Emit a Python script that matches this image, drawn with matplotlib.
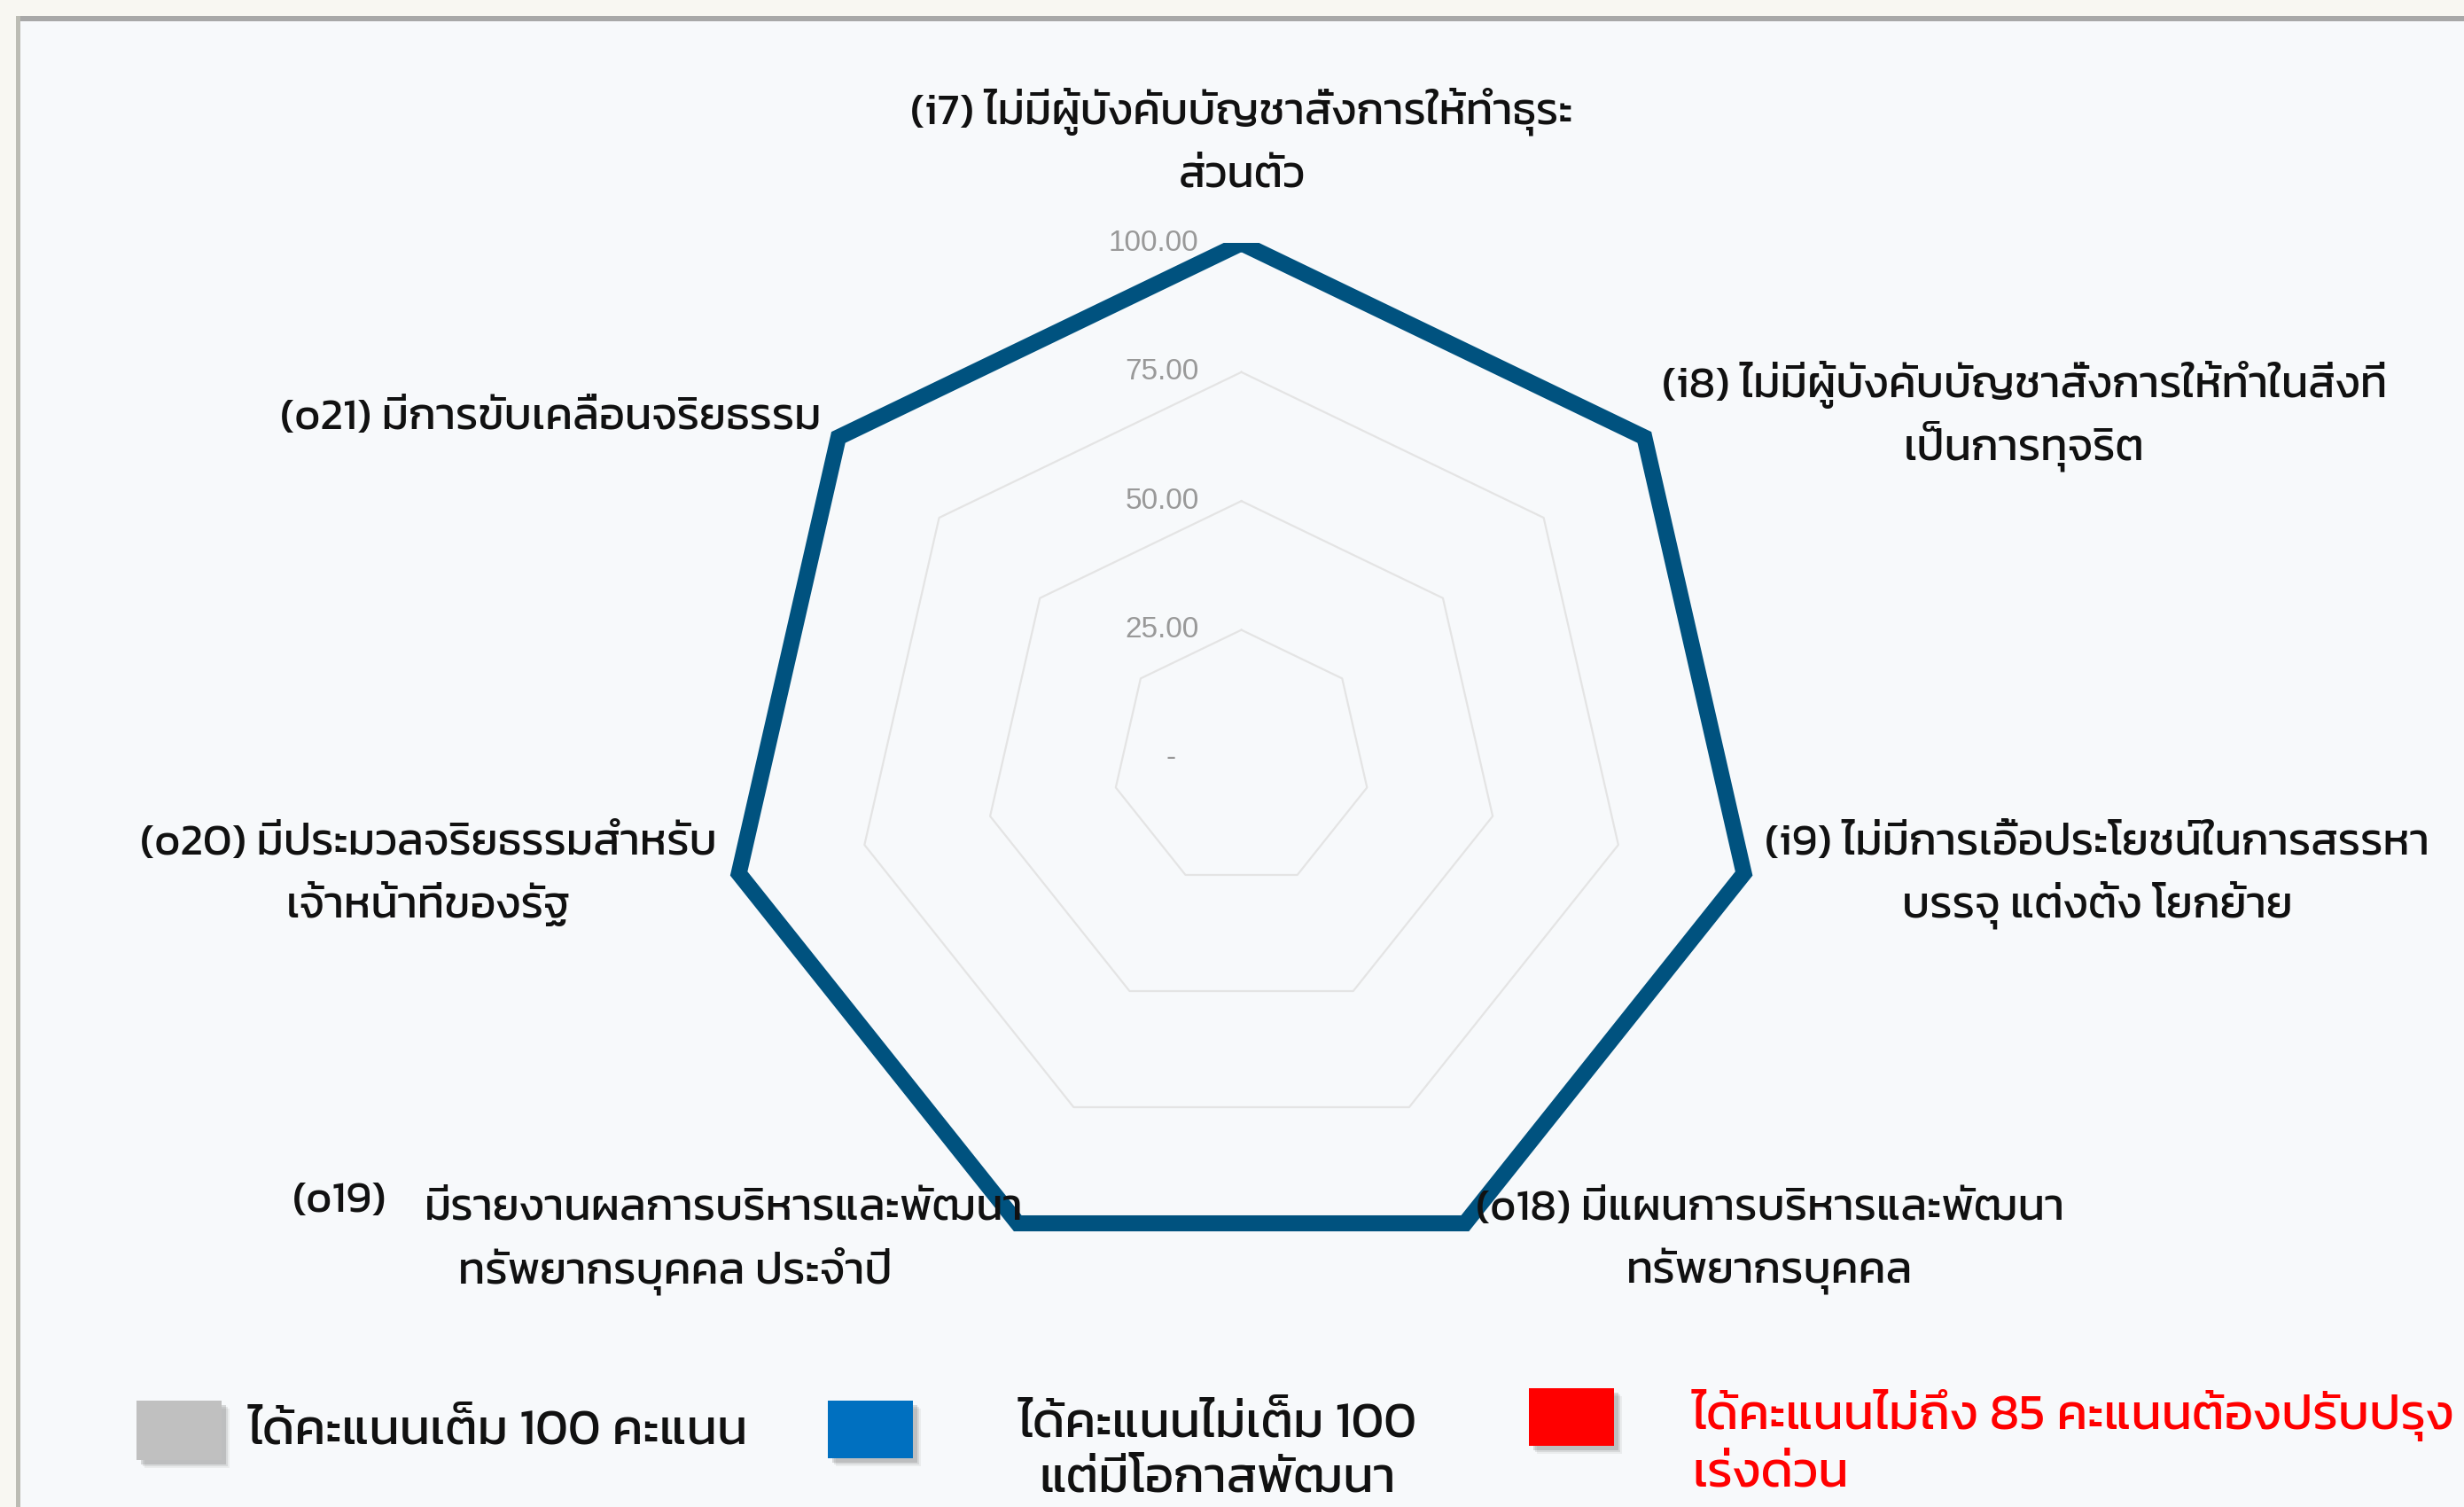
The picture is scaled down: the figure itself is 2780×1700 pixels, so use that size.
import matplotlib
matplotlib.use("Agg")
import numpy as np
import matplotlib.pyplot as plt
from matplotlib.patches import Rectangle

plt.rcParams['font.family'] = ['Kanit', 'DejaVu Sans']
plt.rcParams['font.weight'] = 'normal'

# data
labels = [
    ["(i7) ไม่มีผู้บังคับบัญชาสั่งการให้ทำธุระ", "ส่วนตัว"],
    ["(i8) ไม่มีผู้บังคับบัญชาสั่งการให้ทำในสิ่งที่", "เป็นการทุจริต"],
    ["(i9) ไม่มีการเอื้อประโยชน์ในการสรรหา", "บรรจุ แต่งตั้ง โยกย้าย"],
    ["(o18) มีแผนการบริหารและพัฒนา", "ทรัพยากรบุคคล"],
    ["(o19)", "มีรายงานผลการบริหารและพัฒนา", "ทรัพยากรบุคคล ประจำปี"],
    ["(o20) มีประมวลจริยธรรมสำหรับ", "เจ้าหน้าที่ของรัฐ"],
    ["(o21) มีการขับเคลื่อนจริยธรรม"],
]
scores = [100, 100, 100, 100, 100, 100, 100]
ring_values = [25, 50, 75]
tick_values = [0, 25, 50, 75, 100]
tick_labels = ["-", "25.00", "50.00", "75.00", "100.00"]
legend_labels = [["ได้คะแนนเต็ม 100 คะแนน"],
                 ["ได้คะแนนไม่เต็ม 100", "แต่มีโอกาสพัฒนา"],
                 ["ได้คะแนนไม่ถึง 85 คะแนนต้องปรับปรุง", "เร่งด่วน"]]
legend_colors = ["#c0c0c0", "#0070c0", "#ff0000"]
legend_text_colors = ["#111111", "#111111", "#ff0000"]

W, H, DPI = 2780, 1700, 200
fig = plt.figure(figsize=(W / DPI, H / DPI), dpi=DPI, facecolor="#f8f7f2")


def fx(x):
    return x / W


def fy(y):
    return 1 - y / H


def line_text(s, x, y, size, color, align="center"):
    em = size * DPI / 72
    fig.text(fx(x), fy(y + 0.27 * em), s, ha=align, va="baseline", fontsize=size, color=color)


# panel background + border
fig.add_artist(Rectangle((fx(18), 0), 1, fy(18), transform=fig.transFigure,
                         facecolor="#f7f9fb", edgecolor="none", zorder=0))
fig.add_artist(Rectangle((fx(18), fy(24)), 1, 6 / H, transform=fig.transFigure,
                         facecolor="#a8a8a8", edgecolor="none", zorder=0.5))
fig.add_artist(Rectangle((fx(18), 0), 5 / W, fy(18), transform=fig.transFigure,
                         facecolor="#bcbcb4", edgecolor="none", zorder=0.5))

# radar axes (cartesian, equal scale)
cx, cy, R = 1400.6, 856, 581.6
ax = fig.add_axes([fx(cx - R), fy(cy + R), 2 * R / W, 2 * R / H])
ax.set_xlim(-100, 100)
ax.set_ylim(-100, 100)
ax.axis("off")
ax.patch.set_visible(False)

n = len(scores)
theta = np.linspace(0, 2 * np.pi, n, endpoint=False)
tc = np.append(theta, theta[0])
for r in ring_values:
    ax.plot(r * np.sin(tc), r * np.cos(tc), color="#e4e4e4", lw=0.8, zorder=1)

sc = np.append(scores, scores[0])
ax.plot(sc * np.sin(tc), sc * np.cos(tc), color="#00527f", lw=6.5,
        solid_joinstyle="miter", zorder=3)

for v, t in zip(tick_values, tick_labels):
    if v == 0:
        ax.annotate(t, (0, v), xytext=(-80, 0), textcoords="offset pixels", ha="center",
                    va="center", fontsize=12, color="#999999", family="Liberation Sans")
    else:
        ax.annotate(t, (0, v), xytext=(-48, 0), textcoords="offset pixels", ha="right",
                    va="center", fontsize=12, color="#999999", family="Liberation Sans")

# category labels (pixel layout: x, y, align)
label_pos = [
    [(1401, 126, "center"), (1401, 197, "center")],
    [(2284, 434, "center"), (2284, 505, "center")],
    [(2366, 950, "center"), (2366, 1021, "center")],
    [(1997, 1362, "center"), (1997, 1434, "center")],
    [(330, 1353, "left"), (479, 1362, "left"), (762, 1434, "center")],
    [(483, 950, "center"), (483, 1021, "center")],
    [(621, 470, "center")],
]
fs_lab = 18.1
for lines, pos in zip(labels, label_pos):
    for s, (x, y, al) in zip(lines, pos):
        line_text(s, x, y, fs_lab, "#111111", al)

# legend
boxes = [(154, 1580, 96, 67), (934, 1580, 96, 65), (1725, 1566, 96, 65)]
for (x, y, w, h), c in zip(boxes, legend_colors):
    for d, a in [(9, 0.08), (7, 0.12), (5, 0.2)]:
        fig.add_artist(Rectangle((fx(x + d), fy(y + h + d)), w / W, h / H,
                                 transform=fig.transFigure, facecolor="#555555",
                                 alpha=a, edgecolor="none", zorder=2))
    fig.add_artist(Rectangle((fx(x), fy(y + h)), w / W, h / H, transform=fig.transFigure,
                             facecolor=c, edgecolor="none", zorder=3))

fs_leg = 20.4
legend_pos = [
    [(280, 1613, "left")],
    [(1374, 1605, "center"), (1374, 1667, "center")],
    [(1909, 1597, "left"), (1909, 1661, "left")],
]
for lines, pos, c in zip(legend_labels, legend_pos, legend_text_colors):
    for s, (x, y, al) in zip(lines, pos):
        line_text(s, x, y, fs_leg, c, al)

fig.savefig("out.png", dpi=DPI, facecolor=fig.get_facecolor())
